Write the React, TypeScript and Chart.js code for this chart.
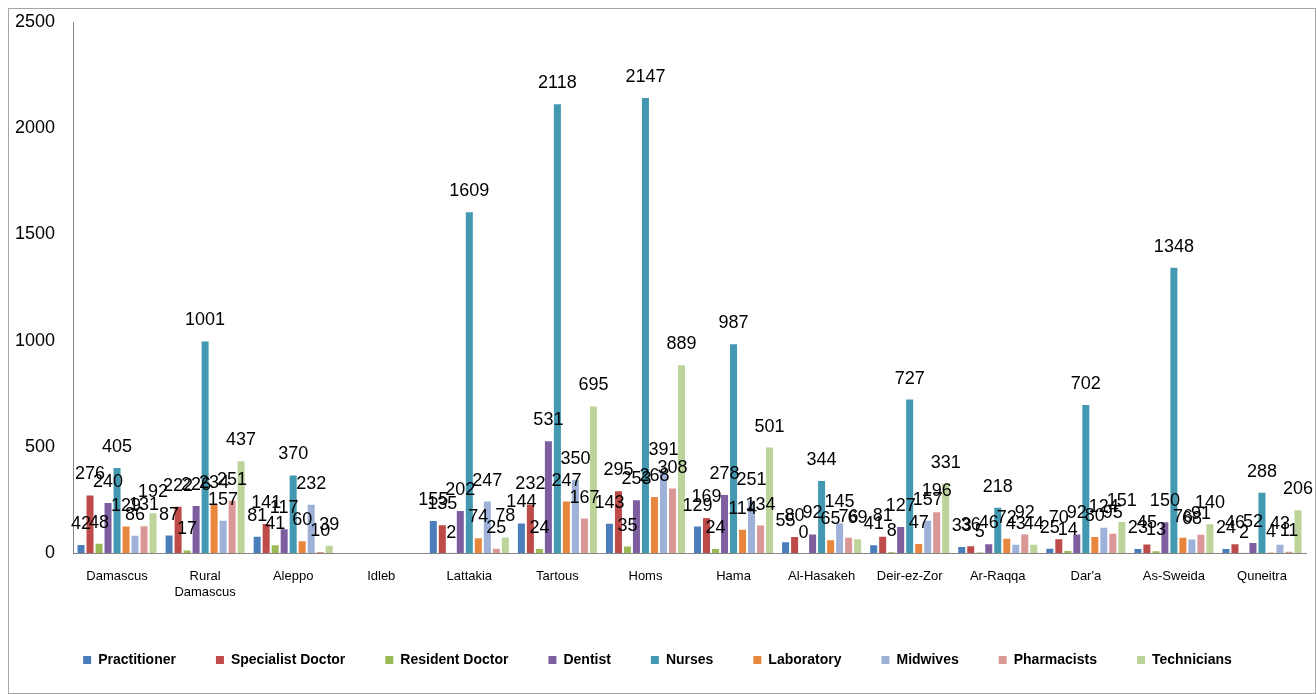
import React, { useEffect, useRef } from "react";
import { Chart, registerables } from "chart.js";

Chart.register(...registerables);

const categories: (string | string[])[] = [
  "Damascus",
  ["Rural", "Damascus"],
  "Aleppo",
  "Idleb",
  "Lattakia",
  "Tartous",
  "Homs",
  "Hama",
  "Al-Hasakeh",
  "Deir-ez-Zor",
  "Ar-Raqqa",
  "Dar'a",
  "As-Sweida",
  "Quneitra",
];

const seriesNames = [
  "Practitioner",
  "Specialist Doctor",
  "Resident Doctor",
  "Dentist",
  "Nurses",
  "Laboratory",
  "Midwives",
  "Pharmacists",
  "Technicians",
];

const practitioner = [42, 87, 81, null, 155, 144, 143, 129, 55, 41, 33, 25, 23, 24];
const specialistDoctor = [276, 222, 141, null, 135, 232, 295, 169, 80, 81, 36, 70, 45, 46];
const residentDoctor = [48, 17, 41, null, 2, 24, 35, 24, 0, 8, 5, 14, 13, 2];
const dentist = [240, 226, 117, null, 202, 531, 253, 278, 92, 127, 46, 92, 150, 52];
const nurses = [405, 1001, 370, null, 1609, 2118, 2147, 987, 344, 727, 218, 702, 1348, 288];
const laboratory = [129, 234, 60, null, 74, 247, 268, 114, 65, 47, 72, 80, 76, 4];
const midwives = [86, 157, 232, null, 247, 350, 391, 251, 145, 157, 43, 124, 68, 43];
const pharmacists = [131, 251, 10, null, 25, 167, 308, 134, 76, 196, 92, 95, 91, 11];
const technicians = [192, 437, 39, null, 78, 695, 889, 501, 69, 331, 44, 151, 140, 206];

const yTicks = [0, 500, 1000, 1500, 2000, 2500];

const seriesValues = [
  practitioner,
  specialistDoctor,
  residentDoctor,
  dentist,
  nurses,
  laboratory,
  midwives,
  pharmacists,
  technicians,
];

const seriesColors = [
  "#4A7EBB",
  "#BE4B48",
  "#98B954",
  "#7D5FA0",
  "#4399B1",
  "#E8863D",
  "#9DB1D9",
  "#D99795",
  "#BCD39A",
];

const FONT = "'Liberation Sans', Arial, sans-serif";

const valueLabels = {
  id: "valueLabels",
  afterDatasetsDraw(chart: any) {
    const ctx = chart.ctx;
    ctx.save();
    ctx.font = `18px ${FONT}`;
    ctx.fillStyle = "#000";
    ctx.textAlign = "center";
    ctx.textBaseline = "alphabetic";
    chart.data.datasets.forEach((ds: any, di: number) => {
      const meta = chart.getDatasetMeta(di);
      if (meta.hidden) return;
      meta.data.forEach((el: any, i: number) => {
        const v = ds.data[i];
        if (v === null || v === undefined) return;
        ctx.fillText(String(v), el.x, el.y - 15);
      });
    });
    ctx.restore();
  },
};

export default function App() {
  const ref = useRef<HTMLCanvasElement>(null);

  useEffect(() => {
    if (!ref.current) return;
    Chart.defaults.font.family = FONT;
    const chart = new Chart(ref.current, {
      type: "bar",
      data: {
        labels: categories,
        datasets: seriesNames.map((name, i) => ({
          label: name,
          data: seriesValues[i],
          backgroundColor: seriesColors[i],
          borderColor: "rgba(255,255,255,0.55)",
          borderWidth: 1,
          categoryPercentage: 0.92,
          barPercentage: 1.0,
        })),
      },
      options: {
        responsive: false,
        animation: false,
        devicePixelRatio: 1,
        layout: { padding: { top: 13, right: 9, bottom: 16, left: 0 } },
        plugins: {
          tooltip: { enabled: false },
          legend: {
            position: "bottom",
            labels: {
              boxWidth: 8,
              boxHeight: 8,
              padding: 40,
              color: "#000",
              font: { size: 14, weight: "bold", family: FONT },
              generateLabels: (c: any) =>
                Chart.defaults.plugins.legend.labels
                  .generateLabels(c)
                  .map((l: any) => ({ ...l, strokeStyle: l.fillStyle, lineWidth: 0 })),
            },
          },
        },
        scales: {
          x: {
            grid: { display: false },
            border: { display: true, color: "#868686" },
            ticks: {
              color: "#000",
              font: { size: 13, family: FONT },
              maxRotation: 0,
              autoSkip: false,
              padding: 8,
            },
            afterFit: (s: any) => {
              s.height = 60;
            },
          },
          y: {
            min: 0,
            max: 2500,
            grid: { display: false },
            border: { display: true, color: "#868686" },
            afterBuildTicks: (s: any) => {
              s.ticks = yTicks.map((v) => ({ value: v }));
            },
            ticks: {
              color: "#000",
              font: { size: 18, family: FONT },
              padding: 10,
              callback: (v: any) => String(v),
            },
            afterFit: (s: any) => {
              s.width = 64;
              s.paddingTop = 0;
              s.paddingBottom = 0;
            },
          },
        },
      },
      plugins: [valueLabels],
    });
    return () => chart.destroy();
  }, []);

  return (
    <div
      style={{
        position: "fixed",
        left: 8,
        top: 8,
        width: 1308,
        height: 686,
        border: "1px solid #a6a6a6",
        boxSizing: "border-box",
        background: "#fff",
      }}
    >
      <canvas ref={ref} width={1306} height={684} style={{ display: "block" }} />
    </div>
  );
}
